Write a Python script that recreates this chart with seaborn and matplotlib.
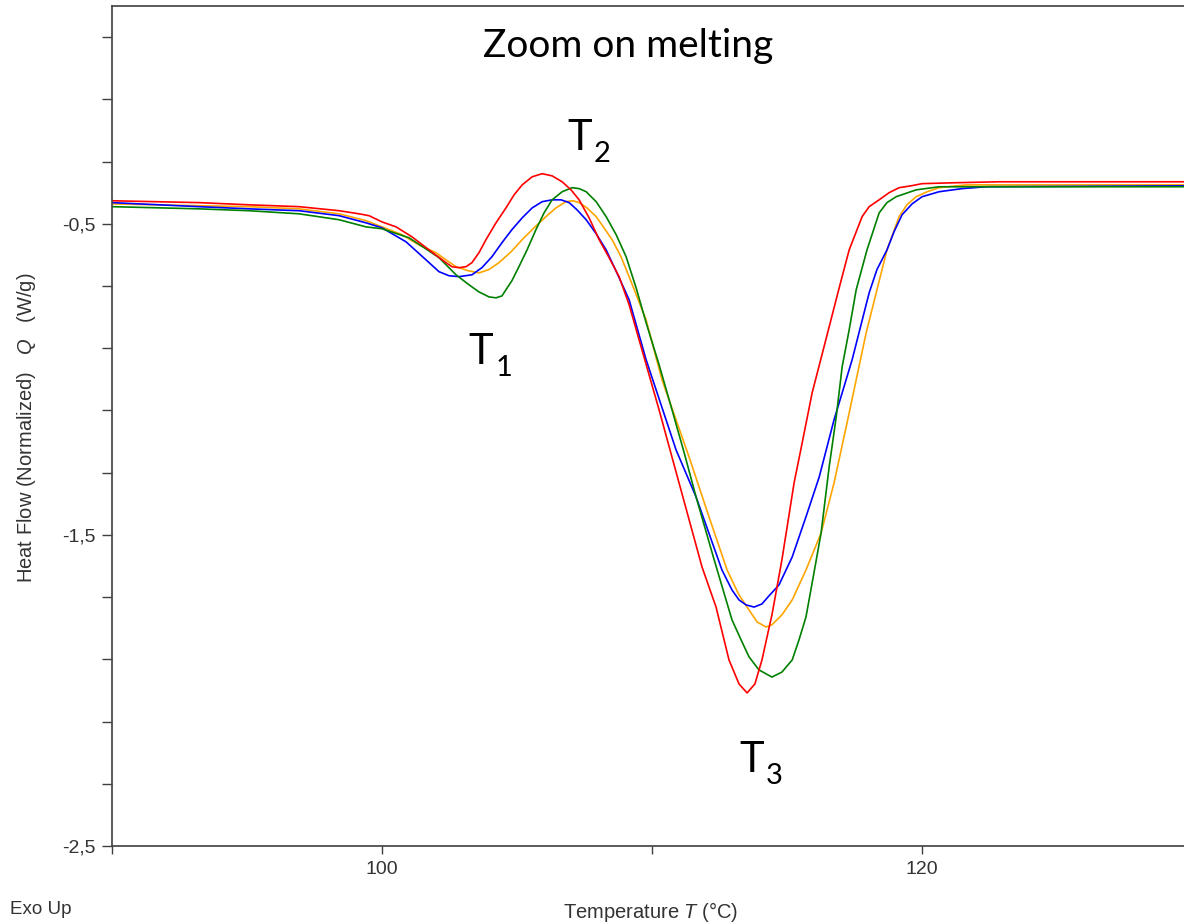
import numpy as np
import pandas as pd
import matplotlib
matplotlib.use("Agg")
import matplotlib.pyplot as plt
from matplotlib.ticker import FixedLocator
import seaborn as sns

# ---------------- data ----------------
red_T = [90.0, 93.22, 95.07, 96.93, 98.41, 99.15, 99.52, 100.0, 100.52, 101.11, 101.74, 102.37, 102.59,
         102.85, 103.11, 103.33, 103.59, 103.85, 104.22, 104.59, 104.89, 105.19, 105.56, 105.93, 106.30,
         106.67, 107.0, 107.30, 107.67, 108.04, 108.41, 108.78, 109.15, 109.52, 110.26, 111.0, 111.85,
         112.37, 112.85, 113.22, 113.52, 113.81, 114.07, 114.44, 114.81, 115.26, 115.56, 115.93, 116.56,
         116.93, 117.30, 117.56, 117.78, 118.04, 118.41, 118.78, 119.15, 119.59, 120.0, 121.26, 122.85, 129.7]
red_Q = [-0.426, -0.432, -0.439, -0.445, -0.458, -0.468, -0.474, -0.494, -0.510, -0.542, -0.584, -0.625,
         -0.638, -0.641, -0.638, -0.625, -0.593, -0.551, -0.497, -0.449, -0.407, -0.375, -0.349, -0.339,
         -0.346, -0.365, -0.391, -0.423, -0.481, -0.551, -0.609, -0.670, -0.760, -0.873, -1.098, -1.333,
         -1.603, -1.732, -1.902, -1.979, -2.008, -1.979, -1.902, -1.757, -1.580, -1.333, -1.204, -1.043,
         -0.831, -0.706, -0.584, -0.526, -0.477, -0.445, -0.423, -0.400, -0.384, -0.378, -0.371, -0.368,
         -0.365, -0.365]

blue_T = [90.0, 93.22, 95.07, 96.93, 98.41, 99.41, 100.0, 100.89, 101.63, 102.11, 102.48, 102.85, 103.33,
          103.70, 104.07, 104.44, 104.81, 105.19, 105.56, 105.93, 106.30, 106.63, 106.93, 107.22, 107.56,
          107.93, 108.30, 108.70, 109.15, 109.78, 110.89, 111.63, 112.59, 112.96, 113.22, 113.48, 113.78,
          114.07, 114.33, 114.70, 115.19, 115.70, 116.19, 116.74, 117.41, 118.04, 118.33, 118.70, 118.96,
          119.26, 119.63, 120.0, 120.63, 121.48, 122.37, 129.7]
blue_Q = [-0.432, -0.445, -0.452, -0.458, -0.474, -0.497, -0.513, -0.558, -0.616, -0.654, -0.667, -0.670,
          -0.664, -0.641, -0.606, -0.561, -0.519, -0.481, -0.449, -0.429, -0.423, -0.423, -0.432, -0.455,
          -0.487, -0.532, -0.584, -0.658, -0.744, -0.937, -1.227, -1.378, -1.613, -1.677, -1.709, -1.725,
          -1.732, -1.722, -1.696, -1.661, -1.571, -1.442, -1.314, -1.130, -0.937, -0.722, -0.647, -0.584,
          -0.526, -0.471, -0.436, -0.413, -0.397, -0.387, -0.381, -0.378]

orange_T = [90.0, 93.22, 95.07, 96.93, 98.41, 99.41, 100.0, 100.74, 101.37, 102.0, 102.37, 102.74, 103.15,
            103.59, 103.96, 104.33, 104.78, 105.19, 105.63, 106.07, 106.44, 106.81, 107.07, 107.30, 107.59,
            107.93, 108.22, 108.52, 108.85, 109.15, 109.78, 110.37, 111.37, 112.11, 112.78, 113.22, 113.59,
            113.89, 114.22, 114.44, 114.81, 115.19, 115.70, 116.26, 116.74, 117.30, 117.93, 118.33, 118.70,
            119.15, 119.44, 119.78, 120.19, 120.63, 121.63, 129.7]
orange_Q = [-0.436, -0.442, -0.445, -0.452, -0.468, -0.490, -0.510, -0.535, -0.568, -0.593, -0.616, -0.638,
            -0.650, -0.658, -0.647, -0.625, -0.590, -0.551, -0.513, -0.477, -0.449, -0.429, -0.426, -0.432,
            -0.449, -0.477, -0.513, -0.551, -0.606, -0.670, -0.809, -1.002, -1.249, -1.442, -1.613, -1.693,
            -1.741, -1.780, -1.796, -1.789, -1.757, -1.709, -1.613, -1.494, -1.333, -1.108, -0.850, -0.712,
            -0.584, -0.477, -0.439, -0.413, -0.397, -0.384, -0.375, -0.375]

green_T = [90.0, 93.22, 95.07, 96.93, 98.41, 99.41, 100.0, 101.00, 101.56, 102.11, 102.74, 103.22, 103.59,
           103.96, 104.22, 104.44, 104.59, 104.81, 105.07, 105.37, 105.70, 106.00, 106.30, 106.67, 107.04,
           107.30, 107.56, 107.93, 108.30, 108.67, 109.04, 109.41, 109.78, 110.26, 110.74, 111.19, 111.63,
           112.30, 112.96, 113.30, 113.59, 113.96, 114.44, 114.81, 115.19, 115.44, 115.70, 115.93, 116.26,
           116.56, 116.82, 117.04, 117.30, 117.56, 117.96, 118.41, 118.70, 119.04, 119.78, 120.63, 129.7]
green_Q = [-0.445, -0.452, -0.458, -0.468, -0.487, -0.510, -0.516, -0.545, -0.577, -0.609, -0.664, -0.696,
           -0.719, -0.735, -0.738, -0.732, -0.712, -0.683, -0.638, -0.584, -0.519, -0.465, -0.423, -0.397,
           -0.384, -0.387, -0.397, -0.429, -0.477, -0.535, -0.606, -0.706, -0.818, -0.953, -1.098, -1.236,
           -1.378, -1.580, -1.773, -1.838, -1.892, -1.934, -1.957, -1.941, -1.902, -1.838, -1.764, -1.654,
           -1.494, -1.281, -1.121, -0.960, -0.841, -0.712, -0.584, -0.465, -0.432, -0.413, -0.391, -0.381,
           -0.381]

series_names = ["orange", "blue", "green", "red"]
series_colors = ["#ffa500", "#0000ff", "#008000", "#ff0000"]

x_major = [80, 100, 120]
x_labels = ["80", "100", "120"]
x_minor = [90, 110, 130]
y_major = [-2.5, -1.5, -0.5]
y_labels = ["-2,5", "-1,5", "-0,5"]
y_minor = [-2.3, -2.1, -1.9, -1.7, -1.3, -1.1, -0.9, -0.7, -0.3, -0.1, 0.1]

# ---------------- build table ----------------
frames = []
for name, T, Q in [("orange", orange_T, orange_Q), ("blue", blue_T, blue_Q),
                   ("green", green_T, green_Q), ("red", red_T, red_Q)]:
    frames.append(pd.DataFrame({"T": T, "Q": Q, "series": name}))
df = pd.concat(frames, ignore_index=True)

# ---------------- style ----------------
sns.set_style("ticks")
plt.rcParams["font.family"] = ["Liberation Sans", "DejaVu Sans"]
plt.rcParams["mathtext.fontset"] = "custom"
plt.rcParams["mathtext.rm"] = "Liberation Sans"
plt.rcParams["mathtext.it"] = "Liberation Sans:italic"

fig = plt.figure(figsize=(11.84, 9.23), dpi=100)
ax = fig.add_axes([112 / 1184, 1 - 846 / 923, 1 - 112 / 1184, (846 - 6) / 923])

sns.lineplot(data=df, x="T", y="Q", hue="series", hue_order=series_names,
             palette=dict(zip(series_names, series_colors)), estimator=None,
             sort=False, linewidth=1.2, legend=False, ax=ax)

ax.set_xlim(90, 129.7)
ax.set_ylim(-2.5, 0.2)
ax.set_xlabel("")
ax.set_ylabel("")

ax.xaxis.set_major_locator(FixedLocator(x_major))
ax.set_xticklabels(x_labels)
ax.xaxis.set_minor_locator(FixedLocator(x_minor))
ax.yaxis.set_major_locator(FixedLocator(y_major))
ax.set_yticklabels(y_labels)
ax.yaxis.set_minor_locator(FixedLocator(y_minor))

spine_col = "#404040"
for s in ["left", "bottom", "top"]:
    ax.spines[s].set_color(spine_col)
    ax.spines[s].set_linewidth(1.2)
ax.spines["right"].set_visible(False)
ax.tick_params(axis="both", which="both", direction="out", colors=spine_col,
               labelcolor="#333333", labelsize=14, length=6, width=1.0, pad=5)
ax.tick_params(axis="y", which="both", length=7)

# ---------------- annotations ----------------
ax.text(109.1, 0.037, "Zoom on melting", fontsize=28, family="Lato",
        ha="center", va="baseline", color="black")

def tlabel(x, y, sub):
    ax.text(x, y, "T", fontsize=30, family="Lato", ha="left", va="baseline", color="black")
    ax.text(x + 1.0, y - 0.04, sub, fontsize=21, family="Lato", ha="left",
            va="baseline", color="black")

tlabel(103.2, -0.95, "1")
tlabel(106.85, -0.262, "2")
tlabel(113.22, -2.262, "3")

fig.text(651 / 1184, 1 - 912 / 923, r"Temperature $\it{T}$ (°C)", fontsize=14.5,
         ha="center", va="center", color="#333333")
fig.text(10 / 1184, 1 - 910 / 923, "Exo Up", fontsize=13.5, ha="left", va="center",
         color="#333333")
fig.text(27 / 1184, 1 - 428 / 923, r"Heat Flow (Normalized)   $\it{Q}$   (W/g)", fontsize=14.5,
         rotation=90, ha="center", va="center", color="#333333")

fig.savefig("out.png", dpi=100)
